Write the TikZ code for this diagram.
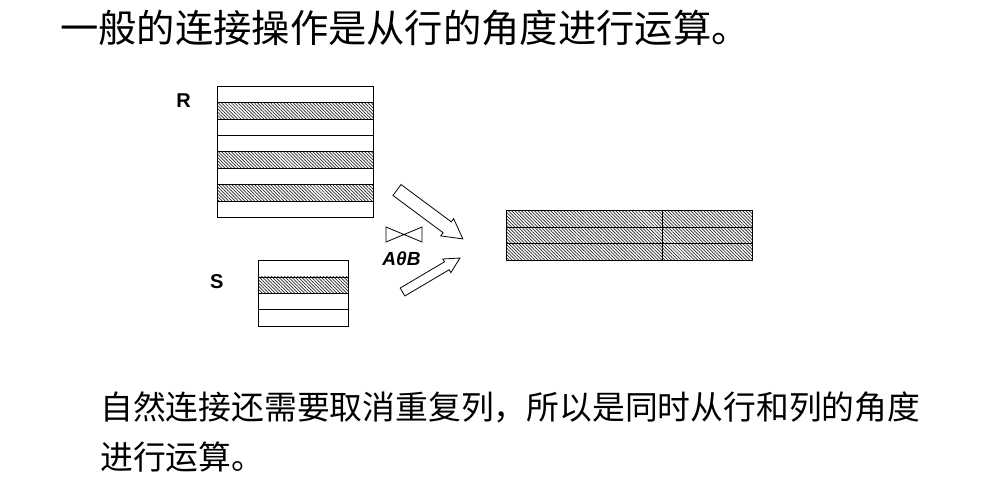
\documentclass[tikz,border=0pt]{standalone}
\usepackage{fontspec}
\setmainfont{Liberation Sans}
\newfontfamily\cjk{Noto Sans CJK SC}
\usetikzlibrary{patterns.meta}
\begin{document}
\begin{tikzpicture}[x=1pt,y=-1pt,
  frame/.style={draw=black,line width=0.8pt},
  hatch/.style={draw=black,line width=0.8pt,pattern={Lines[angle=-45,distance=2.3pt,line width=0.7pt]},pattern color=black!85},
  blockarrow/.style={draw=black,fill=white,line width=0.8pt,line join=miter},
  lbl/.style={font=\fontsize{20}{24}\selectfont\bfseries,inner sep=0pt},
  cjktext/.style={inner sep=0pt,anchor=base west}
]
\useasboundingbox (0,0) rectangle (990,483);

% title
\node[cjktext,font=\cjk\fontsize{38.3}{42}\selectfont] (title) at (60,42) {一般的连接操作是从行的角度进行运算。};

% R table
\def\rt{86}\def\rh{16.45}
\foreach \i in {0,...,7}{
  \pgfmathsetmacro\ya{\rt+\i*\rh}\pgfmathsetmacro\yb{\rt+(\i+1)*\rh}
  \ifnum\i=1 \path[hatch] (217,\ya) rectangle (373,\yb);
  \else\ifnum\i=4 \path[hatch] (217,\ya) rectangle (373,\yb);
  \else\ifnum\i=6 \path[hatch] (217,\ya) rectangle (373,\yb);
  \else \path[frame] (217,\ya) rectangle (373,\yb);
  \fi\fi\fi
}
\node[lbl] (Rl) at (183.5,100.5) {R};

% S table
\path[frame] (258,260.7) rectangle (348,276.9);
\path[hatch] (258,276.9) rectangle (348,293.2);
\path[frame] (258,293.2) rectangle (348,309.5);
\path[frame] (258,309.5) rectangle (348,326);
\node[lbl] (Sl) at (216.8,282) {S};

% result table
\foreach \ya/\yb in {210.7/227.3,227.3/243.8,243.8/260.3}{
  \path[hatch] (506,\ya) rectangle (662.5,\yb);
  \path[hatch] (662.5,\ya) rectangle (752.5,\yb);
}

% block arrows
\draw[blockarrow,shift={(397,190)},rotate=-36.6]
  (0,-6.8) -- (62.5,-6.8) -- (62.5,-10.8) -- (82,0) -- (62.5,10.8) -- (62.5,6.8) -- (0,6.8) -- cycle;
\draw[blockarrow,shift={(402.5,292)},rotate=30.6]
  (0,-4.6) -- (51.5,-4.6) -- (51.5,-7.9) -- (66.8,0) -- (51.5,7.9) -- (51.5,4.6) -- (0,4.6) -- cycle;

% bowtie
\draw[line width=0.8pt,line join=miter] (386,227) -- (386,242) -- (422,227) -- (422,242) -- cycle;
\node[inner sep=0pt,font=\fontsize{19}{22}\selectfont\bfseries\itshape] (theta) at (401.5,258.5) {AθB};

% bottom text
\node[cjktext,font=\cjk\fontsize{32.8}{40}\selectfont] (note1) at (100,419.5) {自然连接还需要取消重复列，所以是同时从行和列的角度};
\node[cjktext,font=\cjk\fontsize{32.8}{40}\selectfont] (note2) at (100,469.5) {进行运算。};
\end{tikzpicture}
\end{document}
